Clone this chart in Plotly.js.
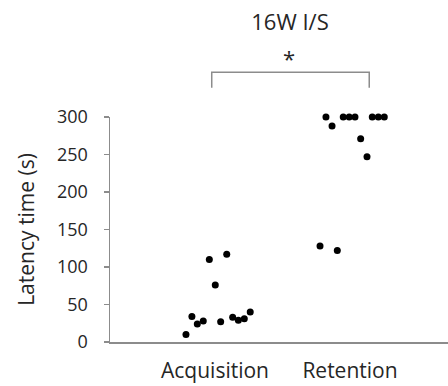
<!DOCTYPE html>
<html>
<head>
<meta charset="utf-8">
<script src="https://cdn.plot.ly/plotly-3.0.1.min.js"></script>
<style>html,body{margin:0;padding:0;background:#fff;}#chart{width:448px;height:386px;}</style>
</head>
<body>
<div id="chart"></div>
<script>
// Categories and tick labels
const categories = ["Acquisition", "Retention"];
const categoryPositions = [1, 2];
const yTickValues = [0, 50, 100, 150, 200, 250, 300];

// Acquisition: jittered x positions and latency values (s)
const acquisitionX = [0.785, 0.829, 0.869, 0.913, 0.958, 1.002, 1.042, 1.087, 1.131, 1.173, 1.217, 1.261];
const acquisitionY = [10, 34, 24, 28, 110, 76, 27, 117, 33, 29, 31, 40];

// Retention: jittered x positions and latency values (s)
const retentionX = [1.778, 1.822, 1.867, 1.906, 1.950, 1.994, 2.037, 2.079, 2.126, 2.165, 2.210, 2.254];
const retentionY = [128, 300, 288, 122, 300, 300, 300, 271, 247, 300, 300, 300];

const FONT = "Open Sans, Lato, sans-serif";
const TXT = "#262626";
const AX = "#8c8c8c";

const marker = {color: "#000", size: 7};
const data = [
  {type: "scatter", mode: "markers", x: acquisitionX, y: acquisitionY, marker: marker, name: categories[0], cliponaxis: false, hoverinfo: "y"},
  {type: "scatter", mode: "markers", x: retentionX, y: retentionY, marker: marker, name: categories[1], cliponaxis: false, hoverinfo: "y"}
];

const layout = {
  width: 448, height: 386,
  margin: {l: 110, r: 0, t: 117, b: 44, pad: 0},
  paper_bgcolor: "#fff", plot_bgcolor: "#fff",
  showlegend: false,
  font: {family: FONT, color: TXT},
  title: {text: "16W I/S", font: {family: FONT, size: 22, color: TXT},
          x: 290/448, xanchor: "center", xref: "container", y: 1 - 22/386, yanchor: "middle", yref: "container"},
  xaxis: {
    range: [0.2222, 2.726], showgrid: false, zeroline: false,
    showline: true, linecolor: AX, linewidth: 1.5,
    tickmode: "array", tickvals: categoryPositions, ticktext: categories,
    ticks: "", ticklabelstandoff: 9,
    tickfont: {family: FONT, size: 21, color: TXT}, fixedrange: true
  },
  yaxis: {
    range: [0, 300], showgrid: false, zeroline: false,
    showline: true, linecolor: AX, linewidth: 1.5,
    tickmode: "array", tickvals: yTickValues,
    ticks: "outside", ticklen: 5, tickcolor: AX, tickwidth: 1.5,
    ticklabelstandoff: 12,
    tickfont: {family: FONT, size: 18, color: TXT},
    title: {text: "Latency time (s)", font: {family: FONT, size: 21, color: TXT}, standoff: 16},
    fixedrange: true
  },
  shapes: [
    {type: "path", xref: "paper", yref: "paper",
     path: "M 0.301 1.130 L 0.301 1.199 L 0.767 1.199 L 0.767 1.130",
     line: {color: AX, width: 1.5}}
  ],
  annotations: [
    {text: "*", xref: "paper", yref: "paper", x: 0.530, y: 1.262, xanchor: "center", yanchor: "middle",
     showarrow: false, font: {family: FONT, size: 22, color: TXT}}
  ]
};

Plotly.newPlot("chart", data, layout, {displayModeBar: false, staticPlot: true});
</script>
</body>
</html>
